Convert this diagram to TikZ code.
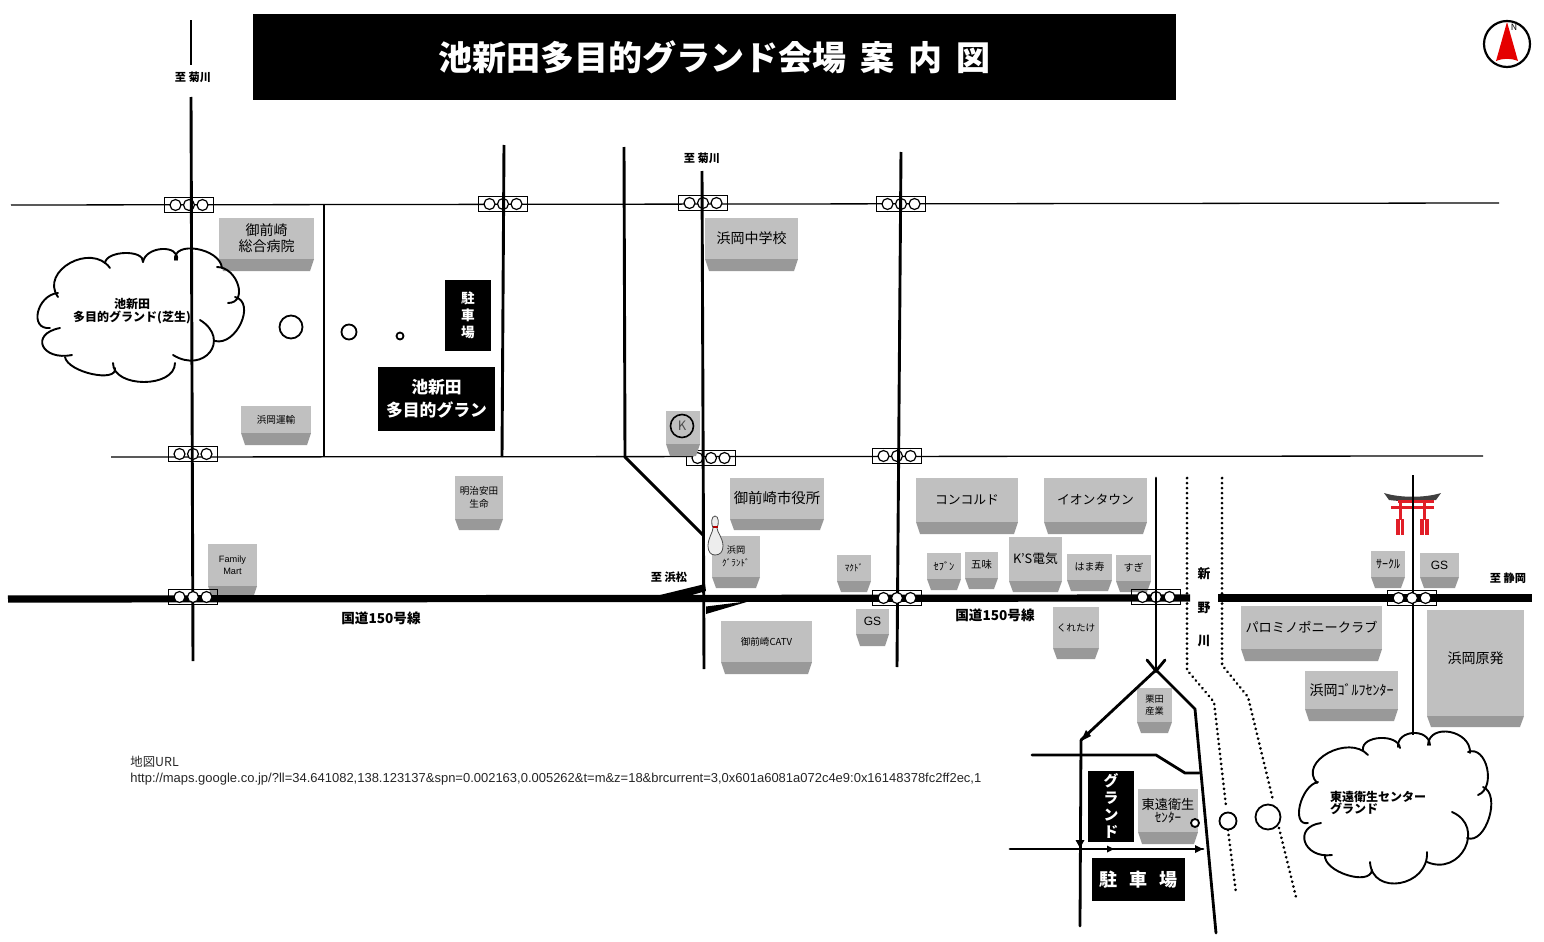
\documentclass[tikz,border=0pt]{standalone}
\usepackage{fontspec}
\setmainfont{Noto Sans CJK JP}
\newfontfamily\latinfont{Liberation Sans}
\usepackage{xcolor}
\usetikzlibrary{positioning}
\definecolor{bldgface}{gray}{0.753}
\definecolor{bldgside}{gray}{0.6}
\definecolor{toriired}{RGB}{225,30,40}
\tikzset{
  thinroad/.style = {line width=0.65pt},
  midroad/.style = {line width=1.45pt},
  mainroad/.style = {line width=3.6pt},
  branch/.style = {line width=1.4pt, line cap=round},
  river/.style = {line width=1.5pt, dash pattern=on 0.01pt off 2.5pt, line cap=round},
  signalbox/.style = {draw, line width=0.55pt},
  signallamp/.style = {draw, fill=white, line width=0.6pt},
  rotary/.style = {draw, fill=white, line width=0.9pt},
  blackbox/.style = {fill=black, text=white, inner sep=0pt, align=center},
  bldglabel/.style = {text=black, inner sep=0pt, align=center},
  place/.style = {inner sep=0pt, align=center, font=\fontsize{5.6}{6.4}\selectfont\bfseries},
  cloudline/.style = {line width=0.95pt, line cap=round}
}
% building: name, x0, y0, x1, y of the shade, y1, size, text
\newcommand{\Bldg}[8]{
  \fill[bldgside] (#2,#5) -- (#4,#5) -- ({#4-4},#6) -- ({#2+4},#6) -- cycle;
  \fill[bldgface] (#2,#3) rectangle (#4,#5);
  \node[bldglabel, font=\fontsize{#7}{#7}\selectfont] (#1) at ({(#2+#4)/2},{(#3+#5)/2}) {#8};
}
% signal: name, x, y
\newcommand{\Signal}[3]{
  \node[signalbox, minimum width=24.5pt, minimum height=7.5pt, inner sep=0pt] (#1) at (#2,#3) {};
  \node[signallamp, circle, minimum size=5.5pt, inner sep=0pt] (#1a) at ({#2-13.5},#3) {};
  \node[signallamp, circle, minimum size=5.5pt, inner sep=0pt] (#1b) at (#2,#3) {};
  \node[signallamp, circle, minimum size=5.5pt, inner sep=0pt] (#1c) at ({#2+13.5},#3) {};
}
% one puff of a cloud: start, end, the point half way along it
\newcommand{\Puff}[6]{
  \draw[cloudline] (#1,#2) .. controls ({#1+4/3*(#5-(#1+#3)/2)},{#2+4/3*(#6-(#2+#4)/2)})
    and ({#3+4/3*(#5-(#1+#3)/2)},{#4+4/3*(#6-(#2+#4)/2)}) .. (#3,#4);
}
\begin{document}
\begin{tikzpicture}[x=0.5pt, y=-0.5pt]
  \useasboundingbox (0,0) rectangle (1544,942);

  % thin roads and the signals on them
  \draw[thinroad] (11,205) -- (1499,203);
  \draw[thinroad] (111,457) -- (1483,456);
  \Signal{sigA}{189}{205}
  \Signal{sigB}{503}{204}
  \Signal{sigC}{703}{203}
  \Signal{sigD}{901}{204}
  \Signal{sigE}{193}{454}
  \Signal{sigF}{711}{458}
  \Signal{sigG}{897}{456}

  % buildings
  \Bldg{byoin}{219}{218}{314}{259}{271}{7}{御前崎\\[1pt]総合病院}
  \Bldg{unyu}{241}{406}{311}{433}{445}{4.8}{浜岡運輸}
  \Bldg{kstore}{666}{411}{700}{444}{456}{7}{}
  \Bldg{shiyakusho}{730}{478}{824}{519}{530}{7.2}{御前崎市役所}
  \Bldg{hamagrand}{712}{536}{760}{577}{588}{4.6}{浜岡\\[2pt]ｸﾞﾗﾝﾄﾞ}
  \Bldg{mac}{837}{555}{871}{581}{592}{4.6}{ﾏｸﾄﾞ}
  \Bldg{gsA}{856}{609}{889}{634}{646}{6}{\latinfont GS}
  \Bldg{catv}{721}{621}{812}{662}{674}{4.8}{御前崎CATV}
  \Bldg{meiji}{455}{476}{503}{519}{530}{4.8}{明治安田\\[2pt]生命}
  \Bldg{family}{208}{544}{257}{586}{598}{4.6}{\latinfont Family\\[1.5pt]\latinfont Mart}
  \Bldg{chugaku}{705}{218}{798}{259}{271}{7}{浜岡中学校}
  \Bldg{concord}{916}{478}{1018}{522}{534}{6.4}{コンコルド}
  \Bldg{aeon}{1044}{478}{1147}{522}{534}{6.4}{イオンタウン}
  \Bldg{seven}{927}{553}{961}{579}{590}{5.2}{ｾﾌﾞﾝ}
  \Bldg{gomi}{965}{552}{998}{578}{589}{5.2}{五味}
  \Bldg{ksdenki}{1009}{537}{1062}{581}{592}{6.4}{K'S電気}
  \Bldg{hamazushi}{1067}{554}{1112}{580}{591}{5}{はま寿}
  \Bldg{sugi}{1116}{555}{1151}{581}{592}{5}{すぎ}
  \Bldg{kuretake}{1053}{607}{1099}{648}{659}{4.8}{\raisebox{-3.5pt}{くれたけ}}
  \Bldg{kurita}{1137}{688}{1172}{722}{733}{4.6}{栗田\\[1.5pt]産業}
  \Bldg{toen}{1138}{789}{1198}{832}{844}{6.6}{東遠衛生\\{\fontsize{6.6}{6.6}\selectfont ｾﾝﾀｰ}}
  \Bldg{palomino}{1241}{606}{1382}{649}{661}{6.6}{パロミノポニークラブ}
  \Bldg{golf}{1305}{671}{1398}{709}{721}{7}{浜岡ｺﾞﾙﾌｾﾝﾀｰ}
  \Bldg{genpatsu}{1427}{610}{1524}{716}{727}{7}{\raisebox{5pt}{浜岡原発}}
  \Bldg{circlek}{1371}{551}{1405}{577}{588}{6}{ｻｰｸﾙ}
  \Bldg{gsB}{1420}{553}{1459}{577}{588}{6}{\latinfont GS}
  \node[draw, circle, line width=0.8pt, minimum size=11.5pt, inner sep=0pt, text=black!70, font=\fontsize{6.5}{7}\selectfont] (kmark) at (682,426) {K};

  % torii
  \fill[black!75] (1384,493) .. controls (1400,498) and (1425,498) .. (1441,493)
    -- (1436,500) .. controls (1420,502) and (1405,502) .. (1389,500) -- cycle;
  \fill[toriired] (1398,499.5) rectangle (1434,503);
  \fill[toriired] (1391,505.5) rectangle (1434,508.5);
  \fill[toriired] (1398.5,500) rectangle (1401.5,520);
  \fill[toriired] (1422.5,500) rectangle (1425.5,520);
  \fill[toriired] (1396,519) rectangle (1404,535);
  \fill[toriired] (1420,519) rectangle (1429,535);
  \draw[white, line width=0.3pt] (1400,520) -- (1400,535);
  \draw[white, line width=0.3pt] (1424.5,520) -- (1424.5,535);

  % roads
  \draw[midroad] (191,20) -- (191,65);
  \draw[midroad] (191,97) -- (193,661);
  \draw[midroad] (324,205) -- (324,457);
  \draw[midroad] (504,145) -- (502,457);
  \draw[midroad] (624,147) -- (625,457) -- (703,535);
  \draw[midroad] (702,171) -- (704,669);
  \draw[midroad] (901,152) -- (897,667);
  \draw[midroad] (1413,475) -- (1413,735);
  \draw[mainroad] (8,599) -- (1190,598);
  \draw[mainroad] (1218,598) -- (1532,598);
  \fill (660,595) -- (705,584) -- (706,591) -- (685,597) -- cycle;
  \fill (706,606.5) -- (750,601) -- (706,614) -- cycle;
  \Signal{sigH}{193}{597}
  \Signal{sigI}{897}{598}
  \Signal{sigJ}{1156}{597}
  \Signal{sigK}{1412}{598}

  % small roads by the second ground
  \draw[branch] (1156,478) -- (1156,670);
  \draw[branch] (1147,660) -- (1156,671) -- (1165,660);
  \draw[branch] (1156,670) -- (1081,740);
  \fill (1081,741) -- (1091,736) -- (1086,730) -- cycle;
  \draw[branch] (1081,740) -- (1080,926);
  \fill (1080,848) -- (1075.5,840) -- (1084.5,840) -- cycle;
  \draw[branch] (1156,670) -- (1195,709) -- (1216,933);
  \draw[branch] (1032,755) -- (1156,755) -- (1185,773) -- (1199,773);
  \draw[branch] (1010,849) -- (1203,849);
  \fill (1203,849) -- (1195,845) -- (1195,853) -- cycle;
  \fill (1114,849) -- (1107,845.5) -- (1107,852.5) -- cycle;

  % river
  \draw[river] (1187,478) -- (1187,670) -- (1214,702) -- (1226,806);
  \draw[river] (1228,830) -- (1236,893);
  \draw[river] (1222,478) -- (1222,665) -- (1248,697) -- (1273,800);
  \draw[river] (1279,828) -- (1296,897);

  % rotaries
  \node[rotary, circle, minimum size=11.5pt, inner sep=0pt] (rotA) at (291,327) {};
  \node[rotary, circle, minimum size=7.5pt, inner sep=0pt] (rotB) at (349,332) {};
  \node[rotary, circle, minimum size=3.5pt, inner sep=0pt] (rotC) at (400,336) {};
  \node[rotary, circle, minimum size=8.5pt, inner sep=0pt] (rotD) at (1228,821) {};
  \node[rotary, circle, minimum size=12.5pt, inner sep=0pt] (rotE) at (1268,817) {};
  \node[rotary, circle, minimum size=4pt, inner sep=0pt] (rotF) at (1195,823) {};

  % clouds
  \Puff{58}{297}{110}{268}{70}{263}
  \Puff{105}{263}{143}{262}{125}{253}
  \Puff{143}{262}{177}{260}{162}{249}
  \Puff{175}{260}{222}{268}{197}{249}
  \Puff{217}{267}{228}{303}{238}{285}
  \Puff{235}{297}{215}{341}{241}{323}
  \Puff{200}{320}{173}{355}{210}{352}
  \Puff{175}{363}{113}{363}{144}{382}
  \Puff{115}{368}{65}{357}{92}{374}
  \Puff{72}{355}{60}{328}{43}{346}
  \Puff{50}{328}{58}{293}{38}{312}

  \Puff{1317}{783}{1368}{755}{1328}{753}
  \Puff{1363}{750}{1400}{748}{1380}{738}
  \Puff{1398}{747}{1430}{745}{1413}{733}
  \Puff{1428}{745}{1470}{753}{1450}{732}
  \Puff{1468}{752}{1478}{795}{1487}{768}
  \Puff{1483}{787}{1467}{838}{1489}{818}
  \Puff{1452}{812}{1427}{862}{1465}{848}
  \Puff{1427}{852}{1370}{862}{1400}{883}
  \Puff{1372}{870}{1325}{855}{1347}{875}
  \Puff{1332}{855}{1321}{823}{1305}{842}
  \Puff{1308}{823}{1318}{782}{1300}{805}

  % north mark
  \node[draw, circle, line width=1.1pt, minimum size=23pt, inner sep=0pt] (north) at (1507,44) {};
  \fill[red!90!black] (1507,22) -- (1518,61) .. controls (1510,58) and (1504,58) .. (1496,61) -- cycle;
  \node[font=\fontsize{4.4}{5}\selectfont\itshape, inner sep=0pt] (northN) at (1514,27) {N};

  % bowling pin
  \draw[black!70, fill=black!7, line width=0.4pt] (715,516) .. controls (711,516) and (711,524) .. (713,528)
    .. controls (713,532) and (708,538) .. (708,546) .. controls (708,552) and (711,555) .. (715,555)
    .. controls (720,555) and (723,552) .. (723,546) .. controls (723,538) and (717,532) .. (717,528)
    .. controls (719,524) and (719,516) .. (715,516) -- cycle;
  \draw[red!70!black, line width=0.7pt] (712.5,527) -- (717.5,527);

  % black boxes
  \node[blackbox, minimum width=461.5pt, minimum height=43pt, font=\fontsize{17}{17}\selectfont\bfseries] (title) at (714.5,57) {\raisebox{1pt}{池新田多目的グランド会場\hspace{7pt}案\hspace{7pt}内\hspace{7pt}図}};
  \node[blackbox, minimum width=23pt, minimum height=35.5pt, font=\fontsize{6.8}{8.4}\selectfont\bfseries] (parkA) at (468,315.5) {\raisebox{-1pt}{駐}\\\raisebox{-1pt}{車}\\\raisebox{-1pt}{場}};
  \node[blackbox, minimum width=58.5pt, minimum height=32pt, font=\fontsize{8.4}{11.5}\selectfont\bfseries] (groundA) at (436.5,399) {池新田\\多目的グラン};
  \node[blackbox, minimum width=23pt, minimum height=35.5pt, font=\fontsize{7.4}{8.4}\selectfont\bfseries] (groundB) at (1111,806) {グ\\ラ\\ン\\ド};
  \node[blackbox, minimum width=46.5pt, minimum height=21.5pt, font=\fontsize{9}{9}\selectfont\bfseries] (parkB) at (1138.5,879.5) {駐\hspace{6pt}車\hspace{6pt}場};

  % place names
  \node[place] (toKikugawaA) at (193,77) {至 菊川};
  \node[place] (toKikugawaB) at (702,158) {至 菊川};
  \node[place] (toHamamatsu) at (669,577) {至 浜松};
  \node[place] (toShizuoka) at (1508,578) {至 静岡};
  \node[place, font=\fontsize{6.8}{7}\selectfont\bfseries] (routeA) at (381,618) {国道150号線};
  \node[place, font=\fontsize{6.8}{7}\selectfont\bfseries] (routeB) at (995,615) {国道150号線};
  \node[place, font=\fontsize{6.4}{7}\selectfont\bfseries] (riverA) at (1204,574) {新};
  \node[place, font=\fontsize{6.4}{7}\selectfont\bfseries] (riverB) at (1204,608) {野};
  \node[place, font=\fontsize{6.4}{7}\selectfont\bfseries] (riverC) at (1204,641) {川};
  \node[place, font=\fontsize{6}{6.4}\selectfont\bfseries] (cloudA) at (132,311) {池新田\\多目的グランド(芝生)};
  \node[place, align=left, font=\fontsize{6}{6.4}\selectfont\bfseries] (cloudB) at (1378,803) {東遠衛生センター\\グランド};
  \node[inner sep=0pt, anchor=west, text=black!85, font=\fontsize{6.2}{7}\selectfont] (urlhead) at (130,762) {地図URL};
  \node[inner sep=0pt, anchor=west, text=black!85, font=\latinfont\fontsize{6.49}{7}\selectfont] (urltext) at (130,779) {http://maps.google.co.jp/?ll=34.641082,138.123137\&spn=0.002163,0.005262\&t=m\&z=18\&brcurrent=3,0x601a6081a072c4e9:0x16148378fc2ff2ec,1};
\end{tikzpicture}
\end{document}
